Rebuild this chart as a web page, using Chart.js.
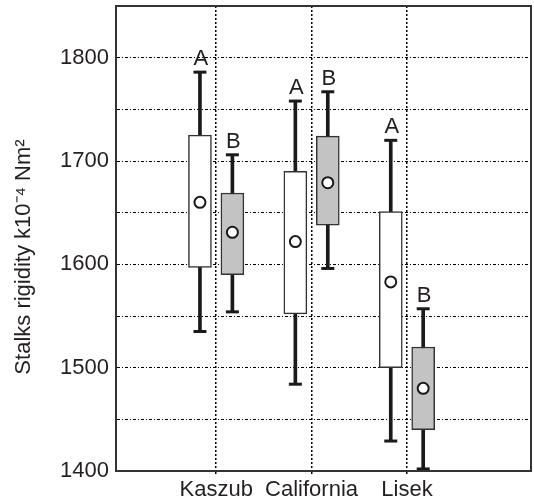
<!DOCTYPE html>
<html><head><meta charset="utf-8">
<script src="https://cdn.jsdelivr.net/npm/chart.js@4.4.1/dist/chart.umd.min.js"></script>
<style>html,body{margin:0;padding:0;background:#fff;}</style>
</head><body>
<canvas id="c" width="534" height="501"></canvas>
<script>
// ---- data ----
const categories = ['Kaszub', 'California', 'Lisek'];
const categoryX = [1, 2, 3];

const whiteMax  = [1786, 1758, 1720];
const whiteQ3   = [1725, 1690, 1651];
const whiteMean = [1660, 1622, 1583];
const whiteQ1   = [1597, 1552, 1500];
const whiteMin  = [1535, 1484, 1429];
const whiteLetters = ['A', 'A', 'A'];

const grayMax  = [1706, 1767, 1557];
const grayQ3   = [1669, 1724, 1520];
const grayMean = [1631, 1679, 1480];
const grayQ1   = [1590, 1638, 1440];
const grayMin  = [1554, 1596, 1402];
const grayLetters = ['B', 'B', 'B'];

const yMin = 1400, yMax = 1850, yStep = 50, yLabelStep = 100;
const yTitle = 'Stalks rigidity k10\u207B\u2074 Nm\u00B2';

// ---- layout / style ----
const GROUP_OFF = 0.17;
const FONT = "'Liberation Sans', Arial, sans-serif";
const INK = '#231f20';

const series = [
  {max: whiteMax, q3: whiteQ3, mean: whiteMean, q1: whiteQ1, min: whiteMin, letters: whiteLetters, off: -GROUP_OFF, fill: '#ffffff'},
  {max: grayMax,  q3: grayQ3,  mean: grayMean,  q1: grayQ1,  min: grayMin,  letters: grayLetters,  off:  GROUP_OFF, fill: '#c3c3c3'}
];

const whiskerData = [], capData = [], meanData = [];
series.forEach(s => {
  categoryX.forEach((cx, i) => {
    const x = cx + s.off;
    whiskerData.push({x, y: [s.min[i], s.max[i]]});
    capData.push({x, y: s.max[i]});
    capData.push({x, y: s.min[i]});
    meanData.push({x, y: s.mean[i]});
  });
});
const boxDatasets = series.map(s => ({
  type: 'bar',
  data: categoryX.map((cx, i) => ({x: cx + s.off, y: [s.q1[i], s.q3[i]]})),
  backgroundColor: s.fill,
  borderColor: '#333333',
  borderWidth: 1.5,
  borderSkipped: false,
  barThickness: 23,
  grouped: false,
  order: 1
}));

const framePlugin = {
  id: 'frame',
  afterDatasetsDraw(chart) {
    const {ctx, chartArea: a} = chart;
    ctx.save();
    ctx.strokeStyle = '#333333';
    ctx.lineWidth = 2;
    ctx.strokeRect(a.left, a.top, a.right - a.left, a.bottom - a.top);
    ctx.restore();
  }
};
const letterPlugin = {
  id: 'letters',
  afterDatasetsDraw(chart) {
    const {ctx} = chart;
    const xs = chart.scales.x, ys = chart.scales.y;
    ctx.save();
    ctx.fillStyle = INK;
    ctx.font = '22px ' + FONT;
    ctx.textAlign = 'center';
    ctx.textBaseline = 'alphabetic';
    series.forEach(s => {
      categoryX.forEach((cx, i) => {
        ctx.fillText(s.letters[i], xs.getPixelForValue(cx + s.off) + 1, ys.getPixelForValue(s.max[i]) - 7);
      });
    });
    ctx.restore();
  }
};
const titlePlugin = {
  id: 'ytitle',
  afterDraw(chart) {
    const {ctx} = chart;
    ctx.save();
    ctx.translate(24, 257);
    ctx.rotate(-Math.PI / 2);
    ctx.fillStyle = INK;
    ctx.font = '22px ' + FONT;
    ctx.textAlign = 'center';
    ctx.textBaseline = 'middle';
    ctx.fillText(yTitle, 0, 0);
    ctx.restore();
  }
};

new Chart(document.getElementById('c'), {
  type: 'bar',
  data: {
    datasets: [
      {type: 'scatter', data: meanData, pointStyle: 'circle', radius: 5.5, backgroundColor: '#ffffff', borderColor: '#1a1a1a', borderWidth: 2, order: 0},
      ...boxDatasets,
      {type: 'scatter', data: capData, pointStyle: 'line', radius: 6.5, borderColor: '#1a1a1a', borderWidth: 3, order: 2},
      {type: 'bar', data: whiskerData, backgroundColor: '#1a1a1a', borderWidth: 0, barThickness: 3, grouped: false, order: 3}
    ]
  },
  options: {
    responsive: false,
    animation: false,
    devicePixelRatio: 1,
    layout: {autoPadding: false, padding: {top: 6, right: 3, left: 0, bottom: 0}},
    plugins: {legend: {display: false}, tooltip: {enabled: false}},
    scales: {
      x: {
        type: 'linear',
        min: -0.05, max: 4.3,
        offset: false,
        afterBuildTicks: sc => { sc.ticks = categoryX.map(v => ({value: v})); },
        afterFit: sc => { sc.height = 30; sc.paddingLeft = 0; sc.paddingRight = 0; },
        ticks: {
          autoSkip: false, maxRotation: 0, padding: 1,
          color: INK, font: {family: FONT, size: 22},
          callback: (v, i) => categories[i]
        },
        grid: {offset: false, color: '#000', lineWidth: 1.5, tickLength: 5, tickBorderDash: [2, 2], tickColor: '#000'},
        border: {display: true, color: '#333333', width: 2, dash: [2, 2]}
      },
      y: {
        type: 'linear',
        min: yMin, max: yMax,
        beginAtZero: false,
        afterFit: sc => { sc.width = 116; sc.paddingTop = 0; sc.paddingBottom = 0; },
        ticks: {
          stepSize: yStep, padding: 7,
          color: INK, font: {family: FONT, size: 22},
          callback: v => (v % yLabelStep === 0 ? String(v) : '')
        },
        grid: {color: '#000', lineWidth: 1, drawTicks: false},
        border: {display: true, color: '#333333', width: 2, dash: [3, 2, 1, 2]}
      }
    }
  },
  plugins: [framePlugin, letterPlugin, titlePlugin]
});
</script>
</body></html>
